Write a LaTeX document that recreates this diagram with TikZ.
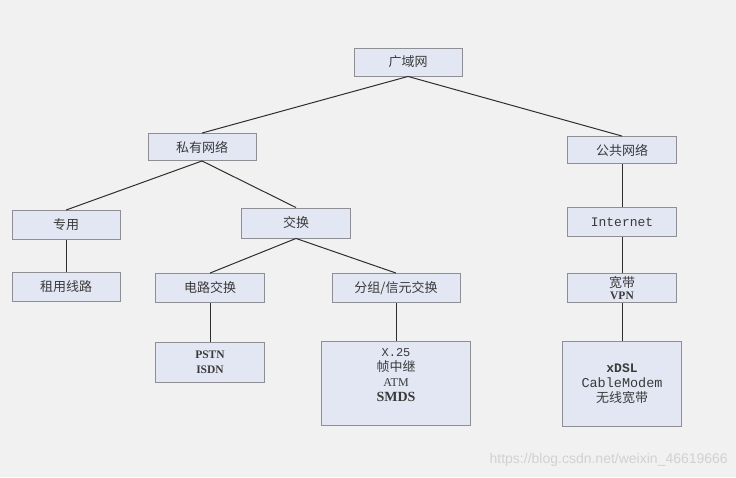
\documentclass[tikz,border=0pt]{standalone}
\usepackage{fontspec}
\setmainfont{Liberation Serif}
\newfontfamily\cjk{Noto Sans CJK SC}
\newfontfamily\wm{Liberation Sans}
\newfontfamily\mono{Liberation Mono}
\begin{document}
\begin{tikzpicture}[x=1pt,y=-1pt,
  box/.style={draw=boxline,fill=boxfill,line width=0.9pt,inner sep=0pt,
    align=center,text=txt,font=\cjk\fontsize{13}{15}\selectfont},
  link/.style={draw=linkc,line width=1pt}]
\definecolor{boxfill}{HTML}{E3E7F4}
\definecolor{boxline}{HTML}{8E8E94}
\definecolor{txt}{HTML}{3A3A3A}
\definecolor{linkc}{HTML}{2E2E2E}
\definecolor{bg}{HTML}{F1F1F1}
\fill[bg] (0,0) rectangle (736,477);
\useasboundingbox (0,0) rectangle (736,477);

\node[box,minimum width=108pt,minimum height=28pt] (wan) at (408,62) {广域网};
\node[box,minimum width=108pt,minimum height=27pt] (priv) at (202,147) {私有网络};
\node[box,minimum width=109pt,minimum height=27pt] (pub) at (622,150) {公共网络};
\node[box,minimum width=108pt,minimum height=29pt] (ded) at (66,225) {专用};
\node[box,minimum width=109pt,minimum height=30pt] (sw) at (296,223) {交换};
\node[box,minimum width=108pt,minimum height=29pt] (lease) at (66,287) {租用线路};
\node[box,minimum width=109pt,minimum height=29pt] (circ) at (210,288) {电路交换};
\node[box,minimum width=128pt,minimum height=29pt] (pkt) at (396,288) {分组/信元交换};
\node[box,minimum width=109pt,minimum height=40pt,font=\bfseries\fontsize{11.5}{15}\selectfont] (pstn) at (210,362) {PSTN\\ISDN};
\node[box,minimum width=149pt,minimum height=84pt] (x25) at (396,383)
  {{\mono\fontsize{12}{15}\selectfont X.25}\\帧中继\\{\rmfamily\fontsize{12}{15}\selectfont ATM}\\{\rmfamily\bfseries\fontsize{14}{15}\selectfont SMDS}\\[1pt]};
\node[box,minimum width=109pt,minimum height=29pt,font=\mono\fontsize{13}{15}\selectfont] (inet) at (622,222) {Internet};
\node[box,minimum width=109pt,minimum height=29pt] (bb) at (622,288) {宽带\\[-3pt]{\rmfamily\bfseries\fontsize{11.5}{13}\selectfont VPN}};
\node[box,minimum width=119pt,minimum height=85pt] (dsl) at (622,383.5)
  {{\mono\bfseries\fontsize{13}{15}\selectfont xDSL}\\{\mono\fontsize{13.5}{15}\selectfont CableModem}\\无线宽带};

\draw[link] (wan.south) -- (priv.north);
\draw[link] (wan.south) -- (pub.north);
\draw[link] (priv.south) -- (ded.north);
\draw[link] (priv.south) -- (sw.north);
\draw[link] (sw.south) -- (circ.north);
\draw[link] (sw.south) -- (pkt.north);
\draw[link] (ded.south) -- (lease.north);
\draw[link] (circ.south) -- (pstn.north);
\draw[link] (pkt.south) -- (x25.north);
\draw[link] (pub.south) -- (inet.north);
\draw[link] (inet.south) -- (bb.north);
\draw[link] (bb.south) -- (dsl.north);

\node[anchor=east,text=black!18,font=\wm\fontsize{14}{16}\selectfont,inner sep=0pt] (mark) at (728,460) {https://blog.csdn.net/weixin\_46619666};
\end{tikzpicture}
\end{document}
